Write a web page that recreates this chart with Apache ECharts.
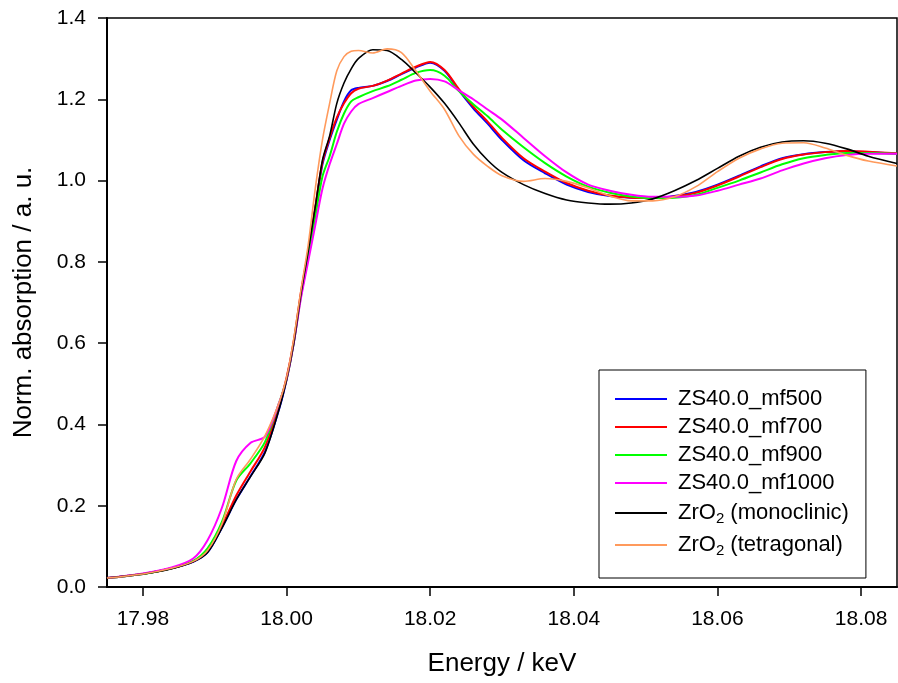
<!DOCTYPE html>
<html>
<head>
<meta charset="utf-8">
<script src="https://cdn.jsdelivr.net/npm/echarts@6/dist/echarts.min.js"></script>
<style>
  html, body { margin: 0; padding: 0; background: #fff; }
  #chart { width: 898px; height: 683px; }
</style>
</head>
<body>
<div id="chart"></div>
<script>
// energy grid (keV) shared by all spectra
const energy = [
  17.975, 17.980, 17.984, 17.987, 17.989, 17.991, 17.993, 17.995, 17.997, 17.999,
  18.000, 18.001, 18.002, 18.003, 18.004, 18.005, 18.006, 18.007, 18.008, 18.009,
  18.010, 18.012, 18.014, 18.016, 18.018, 18.020, 18.022, 18.024, 18.026, 18.028,
  18.030, 18.033, 18.036, 18.039, 18.042, 18.045, 18.048, 18.051, 18.054, 18.057,
  18.060, 18.063, 18.066, 18.069, 18.072, 18.075, 18.078, 18.081, 18.085
];

const mf500 = [
  0.022, 0.032, 0.046, 0.062, 0.085, 0.146, 0.215, 0.273, 0.333, 0.44,
  0.51, 0.60, 0.72, 0.82, 0.93, 1.04, 1.10, 1.15, 1.195, 1.222,
  1.228, 1.233, 1.245, 1.262, 1.278, 1.29, 1.27, 1.222, 1.178, 1.14,
  1.10, 1.05, 1.018, 0.99, 0.972, 0.962, 0.958, 0.957, 0.962, 0.972,
  0.99, 1.012, 1.035, 1.055, 1.065, 1.07, 1.072, 1.07, 1.066
];
const mf700 = [
  0.022, 0.032, 0.046, 0.063, 0.088, 0.15, 0.225, 0.285, 0.345, 0.45,
  0.515, 0.605, 0.725, 0.825, 0.935, 1.045, 1.105, 1.155, 1.19, 1.215,
  1.226, 1.233, 1.246, 1.263, 1.28, 1.292, 1.272, 1.225, 1.182, 1.145,
  1.105, 1.055, 1.022, 0.994, 0.975, 0.963, 0.958, 0.957, 0.961, 0.97,
  0.988, 1.01, 1.033, 1.053, 1.064, 1.07, 1.073, 1.071, 1.067
];
const mf900 = [
  0.022, 0.032, 0.046, 0.064, 0.095, 0.16, 0.262, 0.305, 0.357, 0.455,
  0.51, 0.60, 0.715, 0.81, 0.91, 1.01, 1.06, 1.12, 1.165, 1.195,
  1.205, 1.22, 1.232, 1.248, 1.265, 1.272, 1.258, 1.22, 1.188, 1.158,
  1.125, 1.082, 1.043, 1.01, 0.985, 0.97, 0.961, 0.957, 0.958, 0.965,
  0.982, 1.0, 1.02, 1.04, 1.055, 1.063, 1.068, 1.068, 1.066
];
const mf1000 = [
  0.022, 0.033, 0.048, 0.07, 0.115, 0.195, 0.31, 0.355, 0.37, 0.455,
  0.51, 0.60, 0.71, 0.80, 0.89, 0.98, 1.04, 1.09, 1.14, 1.17,
  1.188, 1.203, 1.218, 1.233, 1.246, 1.25, 1.244, 1.222, 1.2, 1.175,
  1.15, 1.105, 1.06, 1.02, 0.99, 0.975, 0.965, 0.96, 0.96, 0.963,
  0.975, 0.99, 1.005, 1.025, 1.042, 1.055, 1.063, 1.066, 1.066
];
const monoclinic = [
  0.022, 0.032, 0.045, 0.062, 0.085, 0.145, 0.215, 0.272, 0.33, 0.44,
  0.51, 0.60, 0.72, 0.825, 0.935, 1.05, 1.11, 1.19, 1.24, 1.275,
  1.30, 1.322, 1.32, 1.298, 1.265, 1.23, 1.19, 1.142, 1.09, 1.05,
  1.02, 0.99, 0.968, 0.952, 0.945, 0.942, 0.945, 0.955, 0.975, 1.0,
  1.03, 1.06, 1.082, 1.095, 1.098, 1.092, 1.078, 1.06, 1.042
];
const tetragonal = [
  0.022, 0.032, 0.046, 0.063, 0.09, 0.155, 0.265, 0.315, 0.372, 0.455,
  0.515, 0.61, 0.73, 0.84, 0.98, 1.10, 1.19, 1.27, 1.305, 1.318,
  1.32, 1.314, 1.324, 1.315, 1.27, 1.22, 1.175, 1.11, 1.065, 1.035,
  1.012, 0.998, 1.005, 0.998, 0.982, 0.962, 0.95, 0.95, 0.96, 0.985,
  1.022, 1.055, 1.078, 1.092, 1.093, 1.08, 1.062, 1.048, 1.036
];

const xTicks = [17.98, 18.00, 18.02, 18.04, 18.06, 18.08];

const names = ['ZS40.0_mf500', 'ZS40.0_mf700', 'ZS40.0_mf900', 'ZS40.0_mf1000',
  'ZrO2 (monoclinic)', 'ZrO2 (tetragonal)'];
const spectra = [mf500, mf700, mf900, mf1000, monoclinic, tetragonal];
const colors = ['#0000ff', '#ff0000', '#00ff00', '#ff00ff', '#000000', '#ff9a5c'];
const widths = [2, 2, 2, 2, 1.6, 1.6];

const font = '"Liberation Sans", Arial, sans-serif';
const chart = echarts.init(document.getElementById('chart'));

chart.setOption({
  animation: false,
  backgroundColor: '#fff',
  grid: {
    left: 107, right: 1, top: 18, bottom: 96,
    show: true, borderColor: '#000', borderWidth: 1.5
  },
  legend: {
    orient: 'vertical',
    left: 599,
    top: 370,
    padding: [18, 17, 20, 16],
    itemGap: 6,
    itemWidth: 52,
    itemHeight: 2,
    icon: 'rect',
    borderColor: '#000',
    borderWidth: 1,
    backgroundColor: '#fff',
    data: names,
    formatter: (name) => name.replace('ZrO2', 'ZrO{sub|2}'),
    textStyle: {
      fontFamily: font,
      fontSize: 22,
      color: '#000',
      padding: [0, 0, 0, 6],
      rich: {
        sub: { fontFamily: font, fontSize: 15, lineHeight: 15, padding: [11, 0, 0, 0], color: '#000' }
      }
    }
  },
  xAxis: {
    type: 'value',
    min: 17.975,
    max: 18.085,
    name: 'Energy / keV',
    nameLocation: 'middle',
    nameGap: 64,
    nameTextStyle: { fontFamily: font, fontSize: 26, color: '#000' },
    axisLine: { lineStyle: { color: '#000', width: 2 } },
    axisTick: { inside: false, length: 9, customValues: xTicks, lineStyle: { color: '#000', width: 1.5 } },
    axisLabel: {
      customValues: xTicks,
      margin: 22,
      fontFamily: font, fontSize: 21, color: '#000',
      formatter: (v) => v.toFixed(2)
    },
    splitLine: { show: false }
  },
  yAxis: {
    type: 'value',
    min: 0,
    max: 1.4,
    interval: 0.2,
    name: 'Norm. absorption / a. u.',
    nameLocation: 'middle',
    nameGap: 70,
    nameTextStyle: { fontFamily: font, fontSize: 26, color: '#000' },
    axisLine: { show: true, lineStyle: { color: '#000', width: 2 } },
    axisTick: { show: true, inside: false, length: 9, lineStyle: { color: '#000', width: 1.5 } },
    axisLabel: {
      margin: 21,
      fontFamily: font, fontSize: 21, color: '#000',
      formatter: (v) => v.toFixed(1)
    },
    splitLine: { show: false }
  },
  series: spectra.map((vals, i) => ({
    name: names[i],
    type: 'line',
    data: energy.map((e, k) => [e, vals[k]]),
    showSymbol: false,
    symbol: 'none',
    smooth: 0.3,
    lineStyle: { color: colors[i], width: widths[i] },
    itemStyle: { color: colors[i] }
  }))
});
</script>
</body>
</html>
